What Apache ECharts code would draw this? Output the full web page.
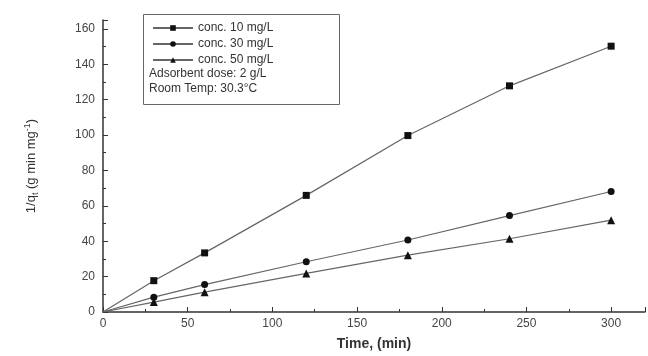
<!DOCTYPE html>
<html>
<head>
<meta charset="utf-8">
<script src="https://cdn.jsdelivr.net/npm/echarts@6/dist/echarts.min.js"></script>
<style>
  html, body { margin: 0; padding: 0; background: #fff; }
  #chart { width: 648px; height: 356px; }
</style>
</head>
<body>
<div id="chart"></div>
<script>
const times = [0, 30, 60, 120, 180, 240, 300];
const conc10 = [0, 17.7, 33.4, 65.9, 99.7, 127.8, 150.2];
const conc30 = [0, 8.4, 15.5, 28.4, 40.7, 54.5, 68.1];
const conc50 = [0, 5.6, 11.2, 21.8, 32.1, 41.4, 51.9];
const seriesNames = ["conc. 10 mg/L", "conc. 30 mg/L", "conc. 50 mg/L"];
const symbols = ["rect", "circle", "triangle"];
const notes = ["Adsorbent dose: 2 g/L", "Room Temp: 30.3°C"];

const chart = echarts.init(document.getElementById("chart"));
const font = "Liberation Sans, Arial, sans-serif";

const series = [conc10, conc30, conc50].map(function (vals, i) {
  return {
    name: seriesNames[i],
    type: "line",
    data: times.map(function (t, j) { return [t, vals[j]]; }),
    symbol: symbols[i],
    symbolSize: i === 2 ? 8 : 7,
    showSymbol: true,
    lineStyle: { color: "#666", width: 1.2 },
    itemStyle: { color: "#111", borderWidth: 0 },
    emphasis: { disabled: true }
  };
});
// hide origin markers
series.forEach(function (s) {
  s.data[0] = { value: s.data[0], symbolSize: 0 };
});

const option = {
  animation: false,
  grid: { left: 103, right: 3, top: 20, bottom: 41 },
  legend: {
    orient: "vertical",
    left: 152,
    top: 22,
    itemWidth: 40,
    itemHeight: 7,
    itemGap: 4,
    padding: 0,
    data: seriesNames,
    textStyle: { fontFamily: font, fontSize: 12, color: "#333" }
  },
  xAxis: {
    type: "value",
    min: 0,
    max: 320,
    interval: 50,
    name: "Time, (min)",
    nameLocation: "middle",
    nameGap: 25,
    nameTextStyle: { fontFamily: font, fontSize: 14, fontWeight: "bold", color: "#333" },
    axisLine: { onZero: false, lineStyle: { color: "#333", width: 1.5 } },
    axisTick: { inside: true, length: 5, lineStyle: { color: "#333" } },
    minorTick: { show: true, splitNumber: 2, length: 3, lineStyle: { color: "#333" } },
    splitLine: { show: false },
    axisLabel: {
      fontFamily: font, fontSize: 12, color: "#444", margin: 6,
      formatter: function (v) { return v <= 300 ? v : ""; }
    }
  },
  yAxis: {
    type: "value",
    min: 0,
    max: 165,
    interval: 20,
    name: "1/q{sub|t} (g min mg{sup|-1})",
    nameLocation: "middle",
    nameGap: 63,
    nameRotate: 90,
    nameTextStyle: {
      fontFamily: font, fontSize: 13, color: "#333",
      rich: {
        sub: { fontFamily: font, fontSize: 9, color: "#333", verticalAlign: "bottom", padding: [6, 0, 0, 0] },
        sup: { fontFamily: font, fontSize: 9, color: "#333", verticalAlign: "top", padding: [0, 0, 8, 0] }
      }
    },
    axisLine: { onZero: false, lineStyle: { color: "#333", width: 1.5 } },
    axisTick: { inside: true, length: 5, lineStyle: { color: "#333" } },
    minorTick: { show: true, splitNumber: 2, length: 3, lineStyle: { color: "#333" } },
    splitLine: { show: false },
    axisLabel: {
      fontFamily: font, fontSize: 12, color: "#444", margin: 8,
      formatter: function (v) { return v <= 160 ? v : ""; }
    }
  },
  graphic: [
    {
      type: "rect",
      left: 141,
      top: 12,
      shape: { width: 196, height: 90 },
      style: { fill: "none", stroke: "#666", lineWidth: 1 },
      silent: true
    },
    {
      type: "text",
      left: 149,
      top: 68,
      style: { text: notes[0], font: "12px " + font, fill: "#333" }
    },
    {
      type: "text",
      left: 149,
      top: 83,
      style: { text: notes[1], font: "12px " + font, fill: "#333" }
    }
  ],
  series: series
};

chart.setOption(option);
</script>
</body>
</html>
